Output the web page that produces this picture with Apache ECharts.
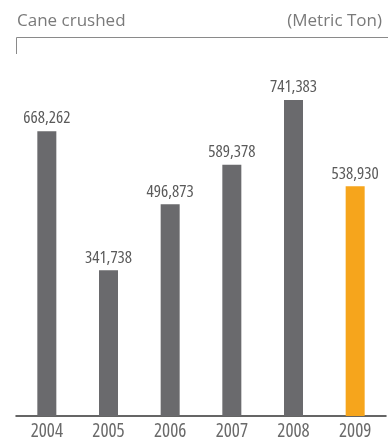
<!DOCTYPE html>
<html>
<head>
<meta charset="utf-8">
<script src="https://cdn.jsdelivr.net/npm/echarts@6/dist/echarts.min.js"></script>
<style>html,body{margin:0;padding:0;background:#fff}#c{width:390px;height:442px}</style>
</head>
<body>
<div id="c"></div>
<script>
var categories = ['2004', '2005', '2006', '2007', '2008', '2009'];
var values = [668262, 341738, 496873, 589378, 741383, 538930];
var barColors = ['#6a6a6d', '#6a6a6d', '#6a6a6d', '#6a6a6d', '#6a6a6d', '#f6a51c'];
var titleText = 'Cane crushed';
var unitText = '(Metric Ton)';

var chart = echarts.init(document.getElementById('c'));
var numFont = '"Open Sans", sans-serif';
chart.setOption({
  animation: false,
  title: [
    { text: titleText, left: 12, top: 8, textStyle: { fontFamily: '"Open Sans", sans-serif', fontSize: 17, fontWeight: 'normal', color: '#7a7a7a' } },
    { text: unitText, right: 3, top: 8, textStyle: { fontFamily: '"Open Sans", sans-serif', fontSize: 17, fontWeight: 'normal', color: '#7a7a7a' } }
  ],
  graphic: [
    { type: 'polyline', shape: { points: [[16.5, 54], [16.5, 37.5], [388, 37.5]] }, style: { stroke: '#8a8a8a', lineWidth: 1, fill: null } }
  ],
  grid: { left: 16, right: 4, top: 75, bottom: 26 },
  xAxis: {
    type: 'category',
    data: categories,
    axisLine: { lineStyle: { color: '#333', width: 1.5 } },
    axisTick: { show: false },
    axisLabel: { color: '#6a6a6a', fontSize: 19, fontStyle: 'condensed', fontFamily: numFont, margin: 6 }
  },
  yAxis: { type: 'value', min: 0, max: 800000, show: false, splitLine: { show: false } },
  series: [{
    type: 'bar',
    barWidth: 19,
    data: values.map(function (v, i) { return { value: v, itemStyle: { color: barColors[i] } }; }),
    label: {
      show: true,
      position: 'top',
      distance: 4,
      color: '#5a5a5a',
      fontSize: 17,
      fontStyle: 'condensed',
      fontFamily: numFont,
      formatter: function (p) { return p.value.toLocaleString('en-US'); }
    }
  }]
});
</script>
</body>
</html>
